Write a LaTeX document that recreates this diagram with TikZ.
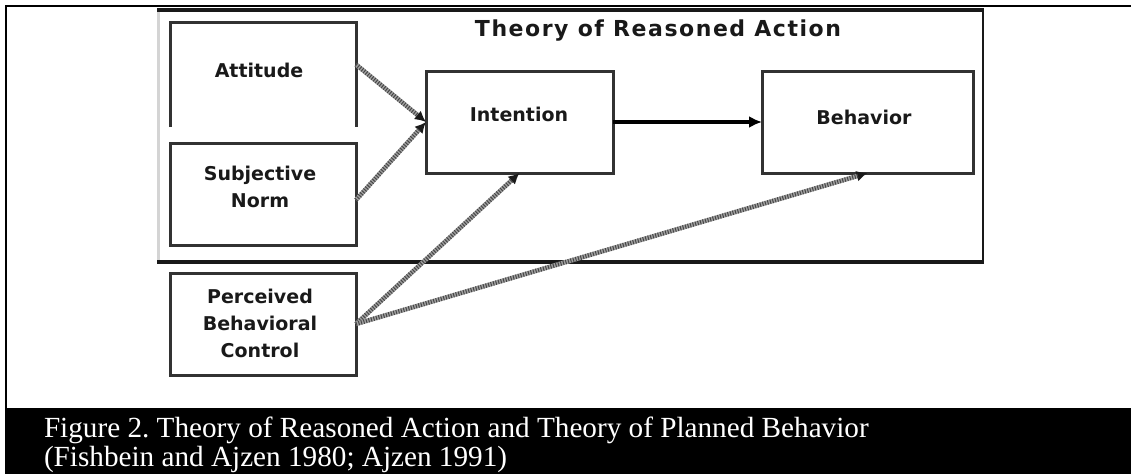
\documentclass[tikz,border=0pt]{standalone}
\usepackage{fontspec}
\setmainfont{Liberation Serif}
\newfontfamily\diagfont{DejaVu Sans}
\newfontfamily\titlefont{DejaVu Sans}[LetterSpace=7]
\usetikzlibrary{arrows.meta}
\definecolor{c3C3C3C}{RGB}{50,50,50}
\definecolor{c262626}{RGB}{25,25,25}
\definecolor{cB4B4B4}{RGB}{160,160,160}
\definecolor{c555555}{RGB}{70,70,70}
\definecolor{cD4D4D4}{RGB}{212,212,212}
\frenchspacing

\begin{document}
\begin{tikzpicture}[y=1pt,x=1pt,yscale=-1, inner sep=0pt, outer sep=0pt,
    panel/.style={draw=c3C3C3C,line width=3pt,minimum width=186pt},
    lbl/.style={font=\diagfont\bfseries\fontsize{19}{27}\selectfont,align=center,text=c262626},
    hatch/.style={draw=cB4B4B4,line width=4.5pt,-{Latex[length=11pt,width=11pt,color=c262626]},
      postaction={draw=c555555,line width=4.5pt,-,shorten >=10pt,dash pattern=on 1pt off 1.6pt}}]
  \useasboundingbox (0,0) rectangle (1131,474);
  % figure border and caption band
  \path[draw=black,line width=2pt] (6,408) -- (6,6) -- (1131,6);
  \path[fill=black] (5,408) rectangle (1131,474);
  \node[anchor=base west,align=left,text=white,font=\fontsize{29.2}{28.5}\selectfont]
    (caption) at (44,466) {Figure 2. Theory of Reasoned Action and Theory of Planned Behavior\\
    (Fishbein and Ajzen 1980; Ajzen 1991)};

  % reasoned action frame
  \path[draw=cD4D4D4,line width=3pt] (158,9) -- (158,262);
  \path[draw=c262626,line width=2pt] (983,9) -- (983,262);
  \path[draw=c262626,line width=4pt] (157,10) -- (984,10);
  \path[draw=c262626,line width=4pt] (157,262) -- (984,262);
  \node[font=\titlefont\bfseries\fontsize{22}{26}\selectfont,text=c262626]
    (title) at (658,31) {Theory of Reasoned Action};

  % boxes
  \node[minimum width=186pt,minimum height=105pt] (att) at (263,74.5) {};
  \path[draw=c3C3C3C,line width=3pt] (att.south west) |- (att.north east) -- (att.south east);
  \node[panel,minimum height=102pt] (sn) at (263,194) {};
  \node[panel,minimum height=102pt] (pbc) at (263,324) {};
  \node[panel,minimum width=187pt,minimum height=102pt] (int) at (519.5,122) {};
  \node[panel,minimum width=211pt,minimum height=102pt] (beh) at (867.5,122) {};

  % labels
  \node[lbl] (attT) at (259,70) {Attitude};
  \node[lbl] (snT) at (260,186.5) {Subjective\\Norm};
  \node[lbl] (pbcT) at (260,323) {Perceived\\Behavioral\\Control};
  \node[lbl] (intT) at (519,114) {Intention};
  \node[lbl] (behT) at (864,117) {Behavior};

  % arrows
  \draw[hatch] ([yshift=-10pt]att.east) -- (int.west);
  \draw[hatch] ([yshift=6pt]sn.east) -- (int.west);
  \draw[hatch] (pbc.east) -- (int.south);
  \draw[hatch] (pbc.east) -- (beh.south);
  \draw[draw=black,line width=4pt,-{Latex[length=13pt,width=12pt]}] (int.east) -- (beh.west);
\end{tikzpicture}
\end{document}
